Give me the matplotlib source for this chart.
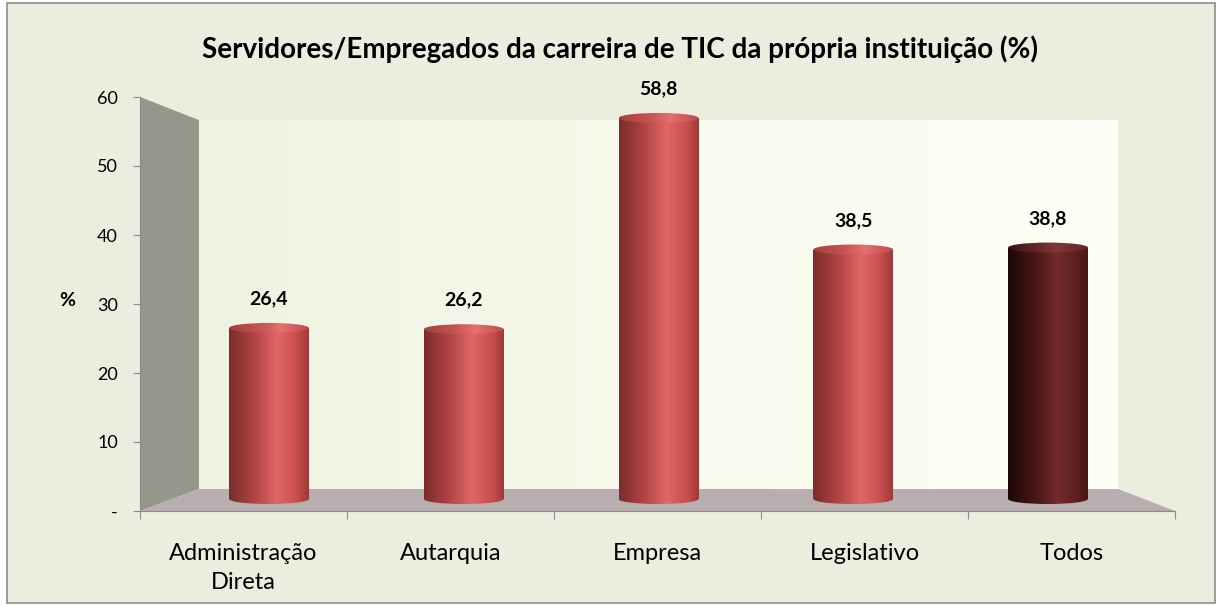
import numpy as np
import matplotlib.pyplot as plt
from matplotlib.patches import Polygon, Ellipse, Rectangle
from matplotlib.colors import LinearSegmentedColormap

# data
categories = ["Administração\nDireta", "Autarquia", "Empresa", "Legislativo", "Todos"]
values = [26.4, 26.2, 58.8, 38.5, 38.8]
value_labels = ["26,4", "26,2", "58,8", "38,5", "38,8"]
y_ticks = [0, 10, 20, 30, 40, 50, 60]
y_tick_labels = ["-", "10", "20", "30", "40", "50", "60"]
title = "Servidores/Empregados da carreira de TIC da própria instituição (%)"

plt.rcParams['font.family'] = ['Lato', 'DejaVu Sans']

W, H = 1219, 606
fig = plt.figure(figsize=(W / 100, H / 100), dpi=100)
fig.patch.set_facecolor("white")


def fx(px):
    return px / W


def fy(py):
    return 1 - py / H


def clip_to(artist, patch):
    # clip an image to a patch
    artist.set_clip_on(True)
    artist.set_clip_path(patch)


# outer chart frame
fig.add_artist(Rectangle((fx(7), fy(603)), fx(1215) - fx(7), fy(3) - fy(603),
                         transform=fig.transFigure, facecolor="#EBEDDF",
                         edgecolor="#8C8C8C", lw=1.2, zorder=0))

rect = [fx(140), fy(511), fx(1175) - fx(140), fy(97) - fy(511)]

# walls and floor (3D look)
axw = fig.add_axes(rect)
axw.set_axis_off()
wx0, wx1, wy0, wy1 = 0.057, 0.9449, 0.0531, 0.9444
wall_cmap = LinearSegmentedColormap.from_list("wall", ["#EEF3E1", "#F7FAEC", "#FEFEF6"])
axw.imshow(np.linspace(0, 1, 256)[np.newaxis, :], cmap=wall_cmap,
           extent=(wx0, wx1, wy0, wy1), aspect='auto', zorder=1)
axw.add_patch(Polygon([(0, 1), (wx0, wy1), (wx0, wy0), (0, 0)], closed=True,
                      facecolor="#95978A", edgecolor="none", zorder=2))
axw.add_patch(Polygon([(0, 0), (wx0, wy0), (wx1, wy0), (1, 0)], closed=True,
                      facecolor="#B9AEAF", edgecolor="none", zorder=2))
axw.set_xlim(0, 1)
axw.set_ylim(0, 1)

# front axis with ticks
ax = fig.add_axes(rect)
ax.patch.set_visible(False)
ax.set_xlim(-0.5, 4.5)
ax.set_ylim(0, 60)
ax.set_yticks(y_ticks, y_tick_labels)
ax.set_xticks(np.arange(-0.5, 5, 1), [""] * 6)
ax.set_xticks(np.arange(5), categories, minor=True)
ax.tick_params(axis='x', which='major', direction='out', length=6, color="#8C8C8C")
ax.tick_params(axis='x', which='minor', length=0, pad=23, labelsize=17)
for lbl in ax.get_xminorticklabels():
    lbl.set_linespacing(1.45)
ax.tick_params(axis='y', direction='out', length=5, color="#8C8C8C", labelsize=13, pad=11)
for s in ["top", "right"]:
    ax.spines[s].set_visible(False)
for s in ["left", "bottom"]:
    ax.spines[s].set_color("#8C8C8C")
ax.set_ylabel("%", rotation=0, fontweight='bold', fontsize=14)
ax.yaxis.set_label_coords(-0.0705, 0.488)

# bars (mid depth plane); a little room below zero for the cylinder base
bar_left, bar_right, bar_zero, bar_top60 = 171.6, 1145.4, 499, 110.2
scale = (bar_zero - bar_top60) / 60
ymin = -3
axb = fig.add_axes([fx(bar_left), fy(bar_zero - ymin * scale), fx(bar_right) - fx(bar_left),
                    fy(bar_top60) - fy(bar_zero - ymin * scale)])
axb.set_axis_off()
red_cmap = LinearSegmentedColormap.from_list(
    "red", [(0, "#7A2C2C"), (0.3, "#B04242"), (0.6, "#E06767"), (0.85, "#C94F4F"), (1, "#9E3939")])
red_top = LinearSegmentedColormap.from_list(
    "redtop", [(0, "#A33F3F"), (0.4, "#C85454"), (0.65, "#E47070"), (1, "#BE4B4B")])
dark_cmap = LinearSegmentedColormap.from_list(
    "dark", [(0, "#1E0707"), (0.35, "#4A1818"), (0.62, "#752B2B"), (0.85, "#5E2020"), (1, "#4A1616")])
dark_top = LinearSegmentedColormap.from_list(
    "darktop", [(0, "#3A1212"), (0.6, "#823636"), (1, "#642424")])

bw = 0.41
eh = 1.55
grad = np.linspace(0, 1, 256)[np.newaxis, :]
bars = axb.bar(np.arange(5), values, width=bw, facecolor="none", edgecolor="none")
for i, (b, v) in enumerate(zip(bars, values)):
    cm_body, cm_top = (dark_cmap, dark_top) if i == 4 else (red_cmap, red_top)
    x0 = b.get_x()
    im = axb.imshow(grad, cmap=cm_body, extent=(x0, x0 + bw, 0, v), aspect='auto', zorder=3)
    clip_to(im, b)
    bottom = Ellipse((i, 0), bw, eh, facecolor="none", edgecolor="none")
    axb.add_patch(bottom)
    im2 = axb.imshow(grad, cmap=cm_body, extent=(x0, x0 + bw, -eh / 2, eh / 2),
                     aspect='auto', zorder=3)
    clip_to(im2, bottom)
    top = Ellipse((i, v), bw, eh, facecolor="none", edgecolor="none")
    axb.add_patch(top)
    im3 = axb.imshow(grad, cmap=cm_top, extent=(x0, x0 + bw, v - eh / 2, v + eh / 2),
                     aspect='auto', zorder=4)
    clip_to(im3, top)
    axb.annotate(value_labels[i], (i, v), xytext=(0, 21), textcoords='offset points',
                 ha='center', va='center', fontweight='bold', fontsize=14)
axb.set_xlim(-0.5, 4.5)
axb.set_ylim(ymin, 60)

fig.text(fx(620), fy(49), title, ha='center', va='center', fontweight='bold', fontsize=20)

fig.savefig("out.png", dpi=100, facecolor=fig.get_facecolor())
